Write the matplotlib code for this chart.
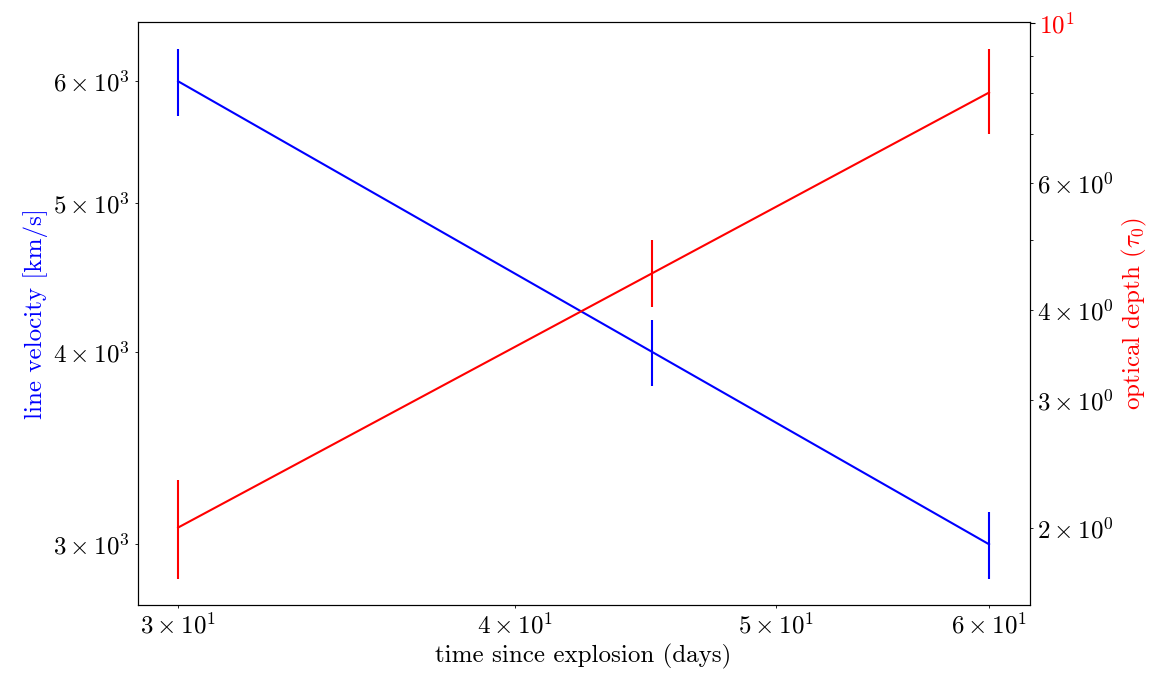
import matplotlib

matplotlib.use("Agg")
import matplotlib.pyplot as plt
import numpy as np

# dados
days = [30, 45, 60]
velocity = [6000, 4000, 3000]
velocity_err = [300, 200, 150]
tau = [2.0, 4.5, 8.0]
tau_err_low = [0.3, 0.46, 1.0]
tau_err_high = [0.33, 0.5, 1.2]


def main():
    plt.rcParams["font.family"] = "serif"
    plt.rcParams["font.serif"] = ["cmr10"]
    plt.rcParams["mathtext.fontset"] = "cm"
    plt.rcParams["axes.formatter.use_mathtext"] = True
    plt.rcParams["axes.unicode_minus"] = False
    plt.rcParams["font.size"] = 18

    fig, ax1 = plt.subplots(figsize=(11.66, 6.73), dpi=100)
    fig.subplots_adjust(left=0.118, right=0.883, top=0.967, bottom=0.101)

    ax1.errorbar(days, velocity, yerr=velocity_err, color="blue", lw=1.5)
    ax1.set_ylabel("line velocity [km/s]", color="blue")
    ax1.set_xlabel("time since explosion (days)")
    ax1.tick_params(axis="y", labelcolor="blue")

    ax2 = ax1.twinx()
    ax2.errorbar(days, tau, yerr=[tau_err_low, tau_err_high], color="red", lw=1.5)
    ax2.set_ylabel(r"optical depth ($\tau_0$)", color="red")
    ax2.tick_params(axis="y", labelcolor="red")

    # escalas log depois de plotar tudo
    ax1.set_xscale("log")
    ax1.set_yscale("log")
    ax2.set_yscale("log")
    ax1.autoscale()
    ax2.autoscale()

    fig.savefig("out.png")
    plt.close(fig)


if __name__ == "__main__":
    main()
